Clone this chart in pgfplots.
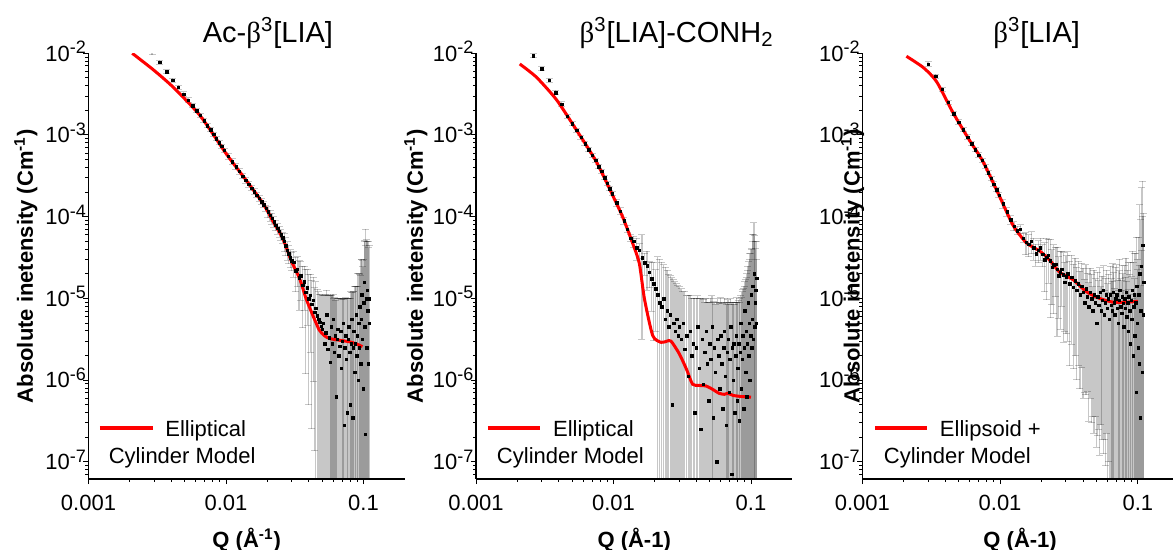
\documentclass[border=0pt]{standalone}
\usepackage{fontspec}
\setmainfont{Liberation Sans}
\newfontfamily\grk{Liberation Serif}
\usepackage{pgfplots}
\pgfplotsset{compat=1.18}

\newcommand{\esup}[1]{\raisebox{0.33em}{\fontsize{9}{9}\selectfont #1}}

% axes are linear in log10(Q) and log10(I); data stay as plain numbers
\pgfplotsset{
  panelax/.style={
    scale only axis, height=212.85pt,
    xmin=-3, ymin=-7.21, ymax=-2,
    axis x line=bottom, axis y line=left,
    axis line style={-, line width=0.6pt},
    tick align=outside, major tick length=2.6pt, minor tick length=1.5pt,
    tick style={black, line width=0.5pt},
    xtick={-3,-2,-1}, xticklabels={0.001,0.01,0.1},
    minor xtick={-2.69897,-2.52288,-2.39794,-2.30103,-2.22185,-2.15490,-2.09691,-2.04576,
      -1.69897,-1.52288,-1.39794,-1.30103,-1.22185,-1.15490,-1.09691,-1.04576},
    ytick={-7,-6,-5,-4,-3,-2},
    yticklabels={10\esup{-7},10\esup{-6},10\esup{-5},10\esup{-4},10\esup{-3},10\esup{-2}},
    minor ytick={-7.15490,-7.09691,-7.04576,
      -6.69897,-6.52288,-6.39794,-6.30103,-6.22185,-6.15490,-6.09691,-6.04576,
      -5.69897,-5.52288,-5.39794,-5.30103,-5.22185,-5.15490,-5.09691,-5.04576,
      -4.69897,-4.52288,-4.39794,-4.30103,-4.22185,-4.15490,-4.09691,-4.04576,
      -3.69897,-3.52288,-3.39794,-3.30103,-3.22185,-3.15490,-3.09691,-3.04576,
      -2.69897,-2.52288,-2.39794,-2.30103,-2.22185,-2.15490,-2.09691,-2.04576},
    ticklabel style={font=\fontsize{11}{13}\selectfont},
    xticklabel style={anchor=base, inner sep=0pt, yshift=-13.0pt},
    yticklabel style={anchor=base east, inner sep=0pt, xshift=1.5pt, yshift=-3.9pt},
    label style={font=\bfseries\fontsize{11}{13}\selectfont},
    ylabel={Absolute inetensity (Cm\textsuperscript{-1})},
    title style={font=\fontsize{14.5}{17}\selectfont, anchor=base, yshift=-0.4pt},
  },
  datpts/.style={only marks, mark=square*, mark size=0.62pt, black,
    mark options={line width=0.1pt},
    error bars/y dir=both, error bars/y explicit,
    error bars/error bar style={black, opacity=0.22, line width=0.6pt},
    error bars/error mark options={rotate=90, mark size=1.75pt, black, opacity=0.22, line width=0.5pt}},
  fitcurve/.style={red, line width=1.5pt, smooth, tension=0.4, no marks},
}
\tikzset{cmlab/.style={font=\fontsize{11}{13}\selectfont, anchor=base west},
  swatch/.style={red, line width=2pt}}

\begin{document}
\begin{tikzpicture}
\useasboundingbox (0,0) rectangle (586.5pt,275pt);

% ---------------- Ac-beta3[LIA] ----------------
\begin{axis}[panelax, at={(44.25pt,35.5pt)}, anchor=south west,
    width=158.2pt, xmax=-0.69897,
    title={Ac-{\grk β}\textsuperscript{3}[LIA]},
    title style={at={(axis description cs:0.567,1)}},
    xlabel={Q (Å\textsuperscript{-1})},
    xlabel style={at={(axis description cs:0.5,0)}, anchor=base, yshift=-34.4pt},
    ylabel style={at={(axis description cs:-0.176,0.5)}, anchor=base}]
\addplot[datpts] table[x expr={log10(\thisrow{q})}, y expr={log10(\thisrow{i})},
    y error plus expr={log10(1+\thisrow{r})},
    y error minus expr={-log10(1-min(\thisrow{r},0.999))}] {
q i r
0.0029 1.02e-2 0.06
0.0033 7.8e-3 0.06
0.0037 5.96e-3 0.06
0.0041 4.7e-3 0.06
0.0045 3.84e-3 0.06
0.0049 3.18e-3 0.06
0.0053 2.69e-3 0.06
0.0057 2.29e-3 0.06
0.0061 1.99e-3 0.06
0.0065 1.74e-3 0.06
0.0069 1.50e-3 0.06
0.0073 1.31e-3 0.06
0.0077 1.16e-3 0.06
0.0081 1.02e-3 0.06
0.0085 9.08e-4 0.06
0.0089 8.1e-4 0.06
0.0093 7.27e-4 0.06
0.0097 6.52e-4 0.06
0.0104 5.52e-4 0.08
0.0111 4.74e-4 0.08
0.0118 4.1e-4 0.08
0.0125 3.59e-4 0.08
0.0132 3.15e-4 0.08
0.0139 2.8e-4 0.08
0.0146 2.51e-4 0.08
0.0153 2.25e-4 0.08
0.0160 2.04e-4 0.08
0.0167 1.85e-4 0.08
0.0174 1.68e-4 0.08
0.0181 1.54e-4 0.08
0.0188 1.41e-4 0.08
0.0195 1.27e-4 0.08
0.0202 1.15e-4 0.15
0.0209 1.04e-4 0.15
0.0216 9.55e-5 0.15
0.0223 8.69e-5 0.15
0.0230 7.89e-5 0.15
0.0237 7.21e-5 0.15
0.0244 6.63e-5 0.15
0.0251 6.05e-5 0.15
0.0258 5.57e-5 0.15
0.0265 5.0e-5 0.25
0.0272 4.41e-5 0.25
0.0279 3.93e-5 0.25
0.0286 3.54e-5 0.25
0.0293 3.16e-5 0.25
0.0300 2.89e-5 0.25
0.031 2.8e-5 0.35
0.032 2.2e-5 0.45
0.033 2.3e-5 0.4
0.034 1.8e-5 0.6
0.035 1.9e-5 0.5
0.036 1.45e-5 0.7
0.037 1.6e-5 0.55
0.038 1.2e-5 0.9
0.039 1.35e-5 0.65
0.040 1.0e-5 0.95
0.041 1.1e-5 0.8
0.042 8.5e-6 0.97
0.043 9.5e-6 0.9
0.044 6.8e-6 0.98
0.045 7.6e-6 1.1
0.046 6.2e-6 1.1
0.047 5.6e-6 1.15
0.048 5.1e-6 1.2
0.049 4.6e-6 1.4
0.050 4.2e-6 1.6
0.051 5.0e-6 1.2
0.052 2.8e-6 2.9
0.053 3.8e-6 1.9
0.054 6.3e-6 1.0
0.055 2.4e-6 3.6
0.056 3.3e-6 2.3
0.057 1.66e-6 5.6
0.058 4.5e-6 1.4
0.059 2.8e-6 2.9
0.060 5.6e-6 1.0
0.061 2.2e-6 3.5
0.062 3.5e-6 1.9
0.063 6.3e-7 14
0.064 3.2e-6 2.1
0.065 4.2e-6 1.4
0.066 2.0e-6 4
0.067 2.6e-6 2.8
0.068 4.0e-6 1.5
0.069 1.4e-6 6
0.070 3.0e-6 2.3
0.071 5.0e-6 1.0
0.072 2.8e-7 34
0.073 2.5e-6 3
0.074 3.5e-6 1.9
0.075 1.8e-6 4.5
0.076 4.0e-7 24
0.077 3.2e-6 2.1
0.078 4.5e-6 1.2
0.079 2.2e-6 3.5
0.080 5.0e-7 19
0.081 2.8e-6 3.3
0.082 5.6e-6 1.1
0.083 3.5e-7 33
0.084 2.5e-6 3.8
0.085 4.0e-6 2.0
0.086 1.26e-6 10
0.087 2.8e-6 4
0.088 6.3e-6 1.2
0.089 2.0e-6 6
0.090 3.5e-6 3
0.091 1.0e-6 19
0.092 5.0e-6 3
0.093 2.5e-6 7
0.094 7.9e-6 1.5
0.095 1.6e-6 11
0.096 5.6e-6 4.3
0.097 1.12e-5 1.7
0.098 3.2e-6 8
0.099 7.9e-7 30
0.100 8.9e-6 2.4
0.101 1.58e-5 2.2
0.102 4.5e-6 10
0.103 2.2e-7 200
0.104 1.0e-5 6
0.105 2.5e-6 20
0.106 1.26e-5 3
0.107 7.1e-6 6
0.108 1.6e-6 25
0.109 1.0e-5 4
0.110 5.0e-6 8
};
\addplot[fitcurve] table[x expr={log10(\thisrow{q})}, y expr={log10(\thisrow{i})}] {
q i
0.00208 1.0e-2
0.00299 6.2e-3
0.00416 3.8e-3
0.00649 1.72e-3
0.0101 5.8e-4
0.0140 2.8e-4
0.0186 1.45e-4
0.0219 8.9e-5
0.0259 5.4e-5
0.0298 2.9e-5
0.0343 1.75e-5
0.0382 1.0e-5
0.0430 6.1e-6
0.0477 4.1e-6
0.0520 3.5e-6
0.0564 3.24e-6
0.0650 3.1e-6
0.0787 2.95e-6
0.0900 2.75e-6
0.0982 2.57e-6
};
\draw[swatch] (axis description cs:0.0363,0.119) -- (axis description cs:0.2048,0.119);
\node[cmlab] at (axis description cs:0.2206,0.1005) {Elliptical};
\node[cmlab] at (axis description cs:0.042,0.0355) {Cylinder Model};
\end{axis}

% ---------------- beta3[LIA]-CONH2 ----------------
\begin{axis}[panelax, at={(238pt,35.5pt)}, anchor=south west,
    width=158.2pt, xmax=-0.69897,
    title={{\grk β}\textsuperscript{3}[LIA]-CONH\textsubscript{2}},
    title style={at={(axis description cs:0.634,1)}},
    xlabel={Q (Å-1)},
    xlabel style={at={(axis description cs:0.5,0)}, anchor=base, yshift=-34.4pt},
    ylabel style={at={(axis description cs:-0.168,0.5)}, anchor=base}]
\addplot[datpts] table[x expr={log10(\thisrow{q})}, y expr={log10(\thisrow{i})},
    y error plus expr={log10(1+\thisrow{r})},
    y error minus expr={-log10(1-min(\thisrow{r},0.999))}] {
q i r
0.0026 9.33e-3 0.06
0.0030 6.46e-3 0.06
0.0034 4.68e-3 0.06
0.0038 3.31e-3 0.06
0.0042 2.40e-3 0.06
0.0046 1.70e-3 0.06
0.0050 1.38e-3 0.06
0.0054 1.14e-3 0.06
0.0058 9.4e-4 0.06
0.0062 7.87e-4 0.06
0.0066 6.62e-4 0.06
0.0070 5.68e-4 0.06
0.0074 4.90e-4 0.06
0.0078 4.10e-4 0.06
0.0082 3.59e-4 0.06
0.0086 3.02e-4 0.06
0.0090 2.57e-4 0.06
0.0094 2.21e-4 0.06
0.0098 1.91e-4 0.06
0.0105 1.48e-4 0.1
0.0112 1.17e-4 0.1
0.0119 9.0e-5 0.1
0.0126 7.08e-5 0.1
0.0133 5.50e-5 0.1
0.0140 5.01e-5 0.15
0.0147 4.17e-5 0.3
0.0154 3.89e-5 0.2
0.0161 3.16e-5 0.9
0.0168 2.75e-5 0.3
0.0175 2.51e-5 0.5
0.0182 2.09e-5 0.35
0.0189 1.74e-5 0.6
0.0196 1.51e-5 0.8
0.0203 1.32e-5 0.7
0.0210 1.12e-5 1.9
0.0217 8.9e-6 2.4
0.0224 7.9e-6 2.5
0.0231 1.0e-5 1.6
0.0238 5.6e-6 3.3
0.0245 7.1e-6 2.1
0.0252 4.5e-6 3.4
0.0259 6.3e-6 2.0
0.0266 5.0e-7 35
0.0273 5.0e-6 2.4
0.0280 4.0e-6 3
0.0287 5.6e-6 1.7
0.0294 3.5e-6 3.1
0.0301 4.5e-6 2.1
0.031 3.2e-6 3.1
0.032 5.0e-6 1.4
0.033 2.4e-6 4
0.034 3.5e-6 2.1
0.035 1.12e-6 8.8
0.036 4.0e-6 1.75
0.037 2.0e-6 4
0.038 2.8e-6 2.6
0.039 4.0e-7 24
0.040 2.5e-6 3
0.041 4.5e-6 1.4
0.042 1.41e-6 6
0.043 2.5e-7 39
0.044 3.2e-6 2.1
0.045 8.9e-7 10
0.046 2.2e-6 3.1
0.047 4.0e-6 1.5
0.048 1.6e-6 4.6
0.049 5.6e-7 15
0.050 2.8e-6 2.2
0.051 1.8e-6 4.6
0.052 4.5e-6 1.4
0.053 3.5e-7 25
0.054 2.5e-6 2.6
0.055 1.26e-6 5.7
0.056 1.0e-7 89
0.057 3.2e-6 2.1
0.058 2.0e-6 3.5
0.059 7.9e-7 10
0.060 3.5e-6 1.9
0.061 1.6e-6 4.6
0.062 4.5e-7 18
0.063 2.5e-6 2.6
0.064 4.0e-6 1.5
0.065 1.12e-6 7
0.066 2.8e-7 29
0.067 2.2e-6 3.1
0.068 3.2e-6 2
0.069 7.1e-7 11
0.070 1.8e-6 4
0.071 4.5e-6 1.2
0.072 7.1e-8 126
0.073 2.5e-6 2.6
0.074 1.0e-6 7.5
0.075 2.8e-6 2.2
0.076 4.0e-7 20
0.077 2.0e-6 3.5
0.078 3.5e-6 1.9
0.079 5.6e-7 15
0.080 1.41e-6 5.4
0.081 2.8e-6 2.4
0.082 3.2e-7 27
0.083 2.2e-6 3.5
0.084 5.0e-6 1.2
0.085 7.9e-7 12
0.086 1.8e-6 5.7
0.087 3.5e-6 2.7
0.088 4.5e-7 28
0.089 2.5e-6 4.6
0.090 7.1e-6 1.25
0.091 1.26e-6 12.5
0.092 4.0e-6 3.5
0.093 6.3e-7 31
0.094 2.8e-6 6.9
0.095 8.9e-6 1.8
0.096 2.0e-6 13
0.097 5.0e-6 5
0.098 1.0e-6 34
0.099 3.5e-6 9
0.100 1.12e-5 2.6
0.101 2.5e-6 15
0.102 5.6e-6 8
0.103 1.41e-5 3.3
0.104 3.2e-6 18
0.105 2.0e-5 3.2
0.106 4.5e-6 12
0.107 8.9e-6 4.6
0.108 1.26e-5 2.2
0.109 5.0e-6 5
0.110 1.78e-5 1.8
};
\addplot[fitcurve] table[x expr={log10(\thisrow{q})}, y expr={log10(\thisrow{i})}] {
q i
0.00208 7.4e-3
0.00275 5.1e-3
0.00385 2.7e-3
0.00536 1.16e-3
0.00748 4.75e-4
0.0099 1.8e-4
0.0117 9.8e-5
0.0138 4.7e-5
0.0154 2.7e-5
0.0168 9.8e-6
0.0193 3.5e-6
0.0222 2.9e-6
0.0245 3.0e-6
0.0262 3.0e-6
0.0301 2.1e-6
0.0340 1.35e-6
0.0376 8.9e-7
0.0420 8.6e-7
0.0469 8.5e-7
0.0520 7.8e-7
0.0586 6.9e-7
0.0640 6.7e-7
0.0680 6.9e-7
0.0740 6.5e-7
0.0850 6.3e-7
0.1000 6.2e-7
};
\draw[swatch] (axis description cs:0.0379,0.119) -- (axis description cs:0.2023,0.119);
\node[cmlab] at (axis description cs:0.2213,0.1005) {Elliptical};
\node[cmlab] at (axis description cs:0.044,0.0355) {Cylinder Model};
\end{axis}

% ---------------- beta3[LIA] ----------------
\begin{axis}[panelax, at={(431.15pt,35.5pt)}, anchor=south west,
    width=155.35pt, xmax=-0.74473,
    title={{\grk β}\textsuperscript{3}[LIA]},
    title style={at={(axis description cs:0.561,1)}},
    xlabel={Q (Å-1)},
    xlabel style={at={(axis description cs:0.508,0)}, anchor=base, yshift=-34.4pt},
    ylabel style={at={(axis description cs:-0.009,0.5)}, anchor=base}]
\addplot[datpts] table[x expr={log10(\thisrow{q})}, y expr={log10(\thisrow{i})},
    y error plus expr={log10(1+\thisrow{r})},
    y error minus expr={-log10(1-min(\thisrow{r},0.999))}] {
q i r
0.0030 7.4e-3 0.06
0.0034 5.25e-3 0.06
0.0038 3.63e-3 0.06
0.0042 2.51e-3 0.06
0.0046 1.82e-3 0.06
0.0050 1.44e-3 0.06
0.0054 1.16e-3 0.06
0.0058 9.46e-4 0.06
0.0062 7.87e-4 0.06
0.0066 6.64e-4 0.06
0.0070 5.70e-4 0.06
0.0074 4.92e-4 0.06
0.0078 4.15e-4 0.06
0.0082 3.47e-4 0.06
0.0086 2.95e-4 0.06
0.0090 2.51e-4 0.06
0.0094 2.14e-4 0.06
0.0098 1.85e-4 0.06
0.0105 1.45e-4 0.12
0.0112 1.15e-4 0.12
0.0119 9.2e-5 0.12
0.0126 7.7e-5 0.12
0.0133 6.8e-5 0.12
0.0140 7.1e-5 0.12
0.0147 5.5e-5 0.12
0.0154 4.9e-5 0.3
0.0161 4.6e-5 0.3
0.0168 5.0e-5 0.3
0.0175 4.2e-5 0.3
0.0182 3.55e-5 0.3
0.0189 3.9e-5 0.3
0.0196 4.17e-5 0.3
0.0203 3.5e-5 0.3
0.0210 3.0e-5 0.6
0.0217 3.2e-5 0.7
0.0224 3.4e-5 0.55
0.0231 2.9e-5 0.8
0.0238 2.4e-5 0.65
0.0245 2.6e-5 0.75
0.0252 2.63e-5 0.6
0.0259 2.3e-5 0.85
0.0266 1.9e-5 0.7
0.0273 2.09e-5 0.8
0.0280 2.29e-5 0.65
0.0287 1.95e-5 0.85
0.0294 1.58e-5 0.75
0.0301 1.85e-5 0.8
0.031 2.0e-5 0.85
0.032 1.51e-5 0.9
0.033 1.82e-5 0.85
0.034 1.38e-5 0.9
0.035 1.66e-5 0.88
0.036 1.26e-5 0.92
0.037 1.51e-5 0.9
0.038 1.12e-5 0.93
0.039 1.41e-5 0.9
0.040 1.2e-5 0.95
0.041 8.9e-6 0.92
0.042 1.32e-5 0.95
0.043 1.05e-5 0.93
0.044 7.9e-6 0.96
0.045 1.2e-5 0.95
0.046 1.0e-5 0.97
0.047 7.1e-6 0.95
0.048 1.12e-5 0.98
0.049 8.9e-6 0.96
0.050 5.0e-6 0.97
0.051 1.05e-5 0.98
0.052 8.3e-6 0.97
0.053 1.2e-5 0.99
0.054 7.1e-6 0.96
0.055 9.5e-6 0.98
0.056 1.26e-5 0.99
0.057 6.3e-6 0.97
0.058 8.9e-6 0.99
0.059 1.12e-5 0.98
0.060 7.6e-6 1.0
0.061 1.0e-5 0.99
0.062 5.6e-6 1.1
0.063 1.12e-5 1.2
0.064 8.3e-6 1.1
0.065 7.1e-6 1.3
0.066 1.2e-5 1.2
0.067 8.9e-6 1.3
0.068 6.3e-6 1.1
0.069 1.0e-5 1.4
0.070 1.12e-5 1.3
0.071 7.6e-6 1.2
0.072 5.0e-6 1.5
0.073 9.5e-6 1.3
0.074 1.26e-5 1.4
0.075 7.9e-6 1.2
0.076 6.6e-6 1.5
0.077 1.05e-5 1.4
0.078 8.7e-6 1.3
0.079 4.5e-6 1.8
0.080 1.0e-5 1.5
0.081 7.6e-6 1.4
0.082 1.2e-5 1.6
0.083 6.0e-6 1.7
0.084 8.9e-6 1.5
0.085 4.0e-6 2.2
0.086 1.05e-5 1.6
0.087 7.1e-6 1.8
0.088 2.8e-6 3
0.089 9.5e-6 1.9
0.090 5.6e-6 2.3
0.091 1.26e-5 2.0
0.092 2.0e-6 4
0.093 7.9e-6 2.5
0.094 1.12e-5 2.2
0.095 3.5e-6 4
0.096 8.9e-6 3
0.097 7.1e-7 15
0.098 1.41e-5 3
0.099 5.0e-6 5
0.100 2.5e-6 8
0.101 1.12e-5 4
0.102 1.6e-6 15
0.103 2.0e-5 6
0.104 3.5e-7 40
0.105 7.1e-6 12
0.106 2.5e-5 8
0.107 1.26e-6 30
0.108 4.5e-5 5
0.109 6.3e-6 15
0.110 1.58e-5 6
};
\addplot[fitcurve] table[x expr={log10(\thisrow{q})}, y expr={log10(\thisrow{i})}] {
q i
0.00209 9.2e-3
0.00277 6.7e-3
0.00346 4.5e-3
0.00456 1.87e-3
0.00603 8.5e-4
0.00753 4.7e-4
0.00995 1.75e-4
0.0124 7.9e-5
0.0155 4.8e-5
0.0194 3.8e-5
0.0229 2.95e-5
0.0271 2.09e-5
0.0338 1.7e-5
0.0423 1.21e-5
0.0528 1.0e-5
0.0659 9.0e-6
0.0823 9.0e-6
0.1000 9.2e-6
};
\draw[swatch] (axis description cs:0.0409,0.119) -- (axis description cs:0.2079,0.119);
\node[cmlab] at (axis description cs:0.2272,0.1005) {Ellipsoid +};
\node[cmlab] at (axis description cs:0.047,0.0355) {Cylinder Model};
\end{axis}
\end{tikzpicture}
\end{document}
